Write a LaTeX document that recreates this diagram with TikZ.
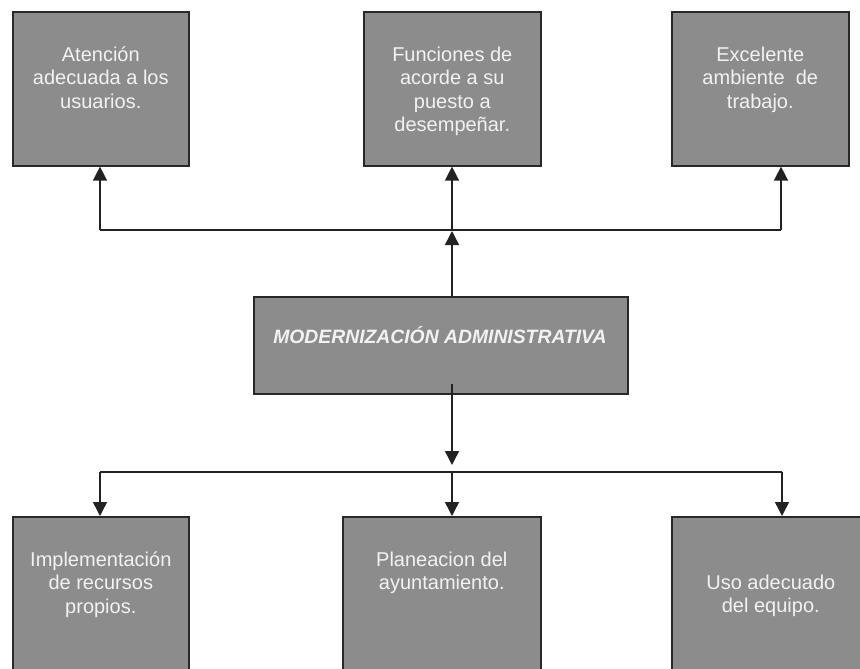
\documentclass[tikz,border=0pt]{standalone}
\usepackage{fontspec}
\setmainfont{Liberation Sans}
\usetikzlibrary{arrows.meta,calc}
\definecolor{boxfill}{RGB}{140,140,140}
\definecolor{boxline}{RGB}{40,40,40}
\definecolor{txtcol}{RGB}{242,242,242}
\definecolor{linecol}{RGB}{34,34,34}
\begin{document}
\begin{tikzpicture}[x=0.75pt,y=-0.75pt,
  box/.style={draw=boxline, line width=1.2pt, fill=boxfill, rectangle, inner sep=0pt, anchor=north west},
  txt/.style={text=txtcol, font=\fontsize{15}{17.6}\selectfont, align=center, inner sep=0pt, anchor=north},
  ctxt/.style={text=txtcol, font=\fontsize{14.5}{17}\selectfont\bfseries\itshape, inner sep=0pt, anchor=base},
  conn/.style={draw=linecol, line width=1.1pt},
  arr/.style={conn, -{Triangle[length=10.5pt,width=10.5pt]}}]
\useasboundingbox (0,0) rectangle (860,668);
\fill[white] (0,0) rectangle (860,668);
\clip (0,0) rectangle (860,668);

% top boxes
\node[box, minimum width=132pt, minimum height=115.5pt] (b1) at (12,11) {};
\node[box, minimum width=132.75pt, minimum height=115.5pt] (b2) at (363,11) {};
\node[box, minimum width=132.75pt, minimum height=115.5pt] (b3) at (671,11) {};
% central box
\node[box, minimum width=280.5pt, minimum height=72.75pt] (c) at (253,296) {};
% bottom boxes
\node[box, minimum width=132pt, minimum height=127.5pt] (b4) at (12,516) {};
\node[box, minimum width=148.5pt, minimum height=127.5pt] (b5) at (342,516) {};
\node[box, minimum width=148.5pt, minimum height=127.5pt] (b6) at (671,516) {};

% texts
\node[txt] (t1) at ($(b1.north)+(0,33.6)$) {\strut Atención\\adecuada a los\\usuarios.};
\node[txt] (t2) at ($(b2.north)+(0,33.6)$) {\strut Funciones de\\acorde a su\\puesto a\\desempeñar.};
\node[txt] (t3) at ($(b3.north)+(0,33.6)$) {\strut Excelente\\ambiente~ de\\trabajo.};
\node[ctxt] (tc) at (440,343) {MODERNIZACIÓN ADMINISTRATIVA};
\node[txt] (t4) at ($(b4.north)+(0,33.6)$) {\strut Implementación\\de recursos\\propios.};
\node[txt] (t5) at ($(b5.north)+(0,33.6)$) {\strut Planeacion del\\ayuntamiento.};
\node[txt] (t6) at ($(b6.north)+(0,56.6)$) {\strut Uso adecuado\\del equipo.};

% top connectors
\coordinate (hT) at (452,230);
\coordinate (hTtip) at (452,231);
\coordinate (a1) at (100,230);
\coordinate (a3) at (781,230);
\draw[conn] (a1) -- (a3);
\draw[arr] (a1) -- (a1 |- b1.south);
\draw[arr] (hT) -- (hT |- b2.south);
\draw[arr] (a3) -- (a3 |- b3.south);
\draw[arr] (hT |- c.north) -- (hTtip);

% bottom connectors
\coordinate (cs) at (452,384);
\coordinate (hBtip) at (452,465);
\coordinate (hB) at (452,472);
\coordinate (a4) at (100,472);
\coordinate (a6) at (782,472);
\draw[arr] (cs) -- (hBtip);
\draw[conn] (a4) -- (a6);
\draw[arr] (a4) -- (a4 |- b4.north);
\draw[arr] (hB) -- (hB |- b5.north);
\draw[arr] (a6) -- (a6 |- b6.north);
\end{tikzpicture}
\end{document}
